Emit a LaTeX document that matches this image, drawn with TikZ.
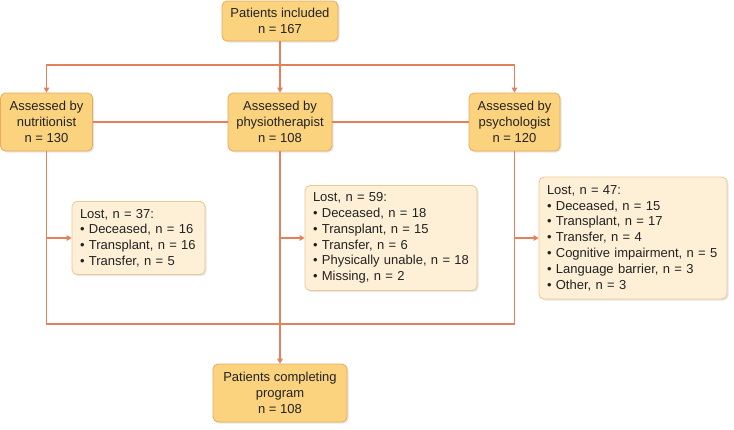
\documentclass[tikz,border=0pt]{standalone}
\usepackage{fontspec}
\setmainfont{Liberation Sans}
\usetikzlibrary{arrows.meta,shadows}
\definecolor{boxfill}{HTML}{FBD37E}
\definecolor{boxdraw}{HTML}{E8AA5C}
\definecolor{lostfill}{HTML}{FDF0D6}
\definecolor{lostdraw}{HTML}{EBC894}
\definecolor{linec}{HTML}{E4805A}
\definecolor{txt}{HTML}{222222}
\begin{document}
\begin{tikzpicture}[x=1pt,y=-1pt,
  font=\fontsize{13}{15.8}\selectfont, text=txt,
  shad/.style={drop shadow={opacity=0.2,shadow xshift=1.5pt,shadow yshift=-1.5pt}},
  mainbox/.style={draw=boxdraw, fill=boxfill, rounded corners=5pt, line width=0.8pt,
    align=center, inner sep=0pt, shad},
  lostbox/.style={draw=lostdraw, fill=lostfill, rounded corners=5pt, line width=0.8pt,
    align=left, inner xsep=8pt, inner ysep=0pt, shad},
  conn/.style={draw=linec, line width=1.5pt},
  arr/.style={conn, -{Triangle[length=5pt,width=5.5pt]}}]
\useasboundingbox (0,0) rectangle (734,429);

\node[mainbox, minimum width=116pt, minimum height=40pt] (top) at (280,21)
  {Patients included\\n = 167};
\node[mainbox, minimum width=92pt, minimum height=58pt] (nut) at (46.5,122)
  {Assessed by\\nutritionist\\n = 130};
\node[mainbox, minimum width=104pt, minimum height=58pt] (phy) at (280,122)
  {Assessed by\\physiotherapist\\n = 108};
\node[mainbox, minimum width=91pt, minimum height=58pt] (psy) at (514.5,122)
  {Assessed by\\psychologist\\n = 120};
\node[mainbox, minimum width=134pt, minimum height=58pt] (bot) at (280,393)
  {Patients completing\\program\\n = 108};

\node[lostbox, text width=117pt, minimum height=73pt] (lost1) at (138.5,238)
  {Lost, n = 37:\\• Deceased, n = 16\\• Transplant, n = 16\\• Transfer, n = 5};
\node[lostbox, text width=156pt, minimum height=105pt] (lost2) at (391,238)
  {Lost, n = 59:\\• Deceased, n = 18\\• Transplant, n = 15\\• Transfer, n = 6\\• Physically unable, n = 18\\• Missing, n = 2};
\node[lostbox, text width=172pt, minimum height=122pt] (lost3) at (633,238)
  {Lost, n = 47:\\• Deceased, n = 15\\• Transplant, n = 17\\• Transfer, n = 4\\• Cognitive impairment, n = 5\\• Language barrier, n = 3\\• Other, n = 3};

\coordinate (split) at (280,65);
\coordinate (bl) at (0,324);

\draw[conn] (top.south) -- (split);
\draw[arr] (split) -| (nut.north);
\draw[arr] (split) -- (phy.north);
\draw[arr] (split) -| (psy.north);
\draw[conn] (nut.east) -- (phy.west);
\draw[conn] (phy.east) -- (psy.west);
\draw[conn] (nut.south) -- (nut.south |- bl) -- (psy.south |- bl) -- (psy.south);
\draw[arr] (phy.south) -- (bot.north);
\draw[arr] (nut.south |- lost1.west) -- (lost1.west);
\draw[arr] (phy.south |- lost2.west) -- (lost2.west);
\draw[arr] (psy.south |- lost3.west) -- (lost3.west);
\end{tikzpicture}
\end{document}
